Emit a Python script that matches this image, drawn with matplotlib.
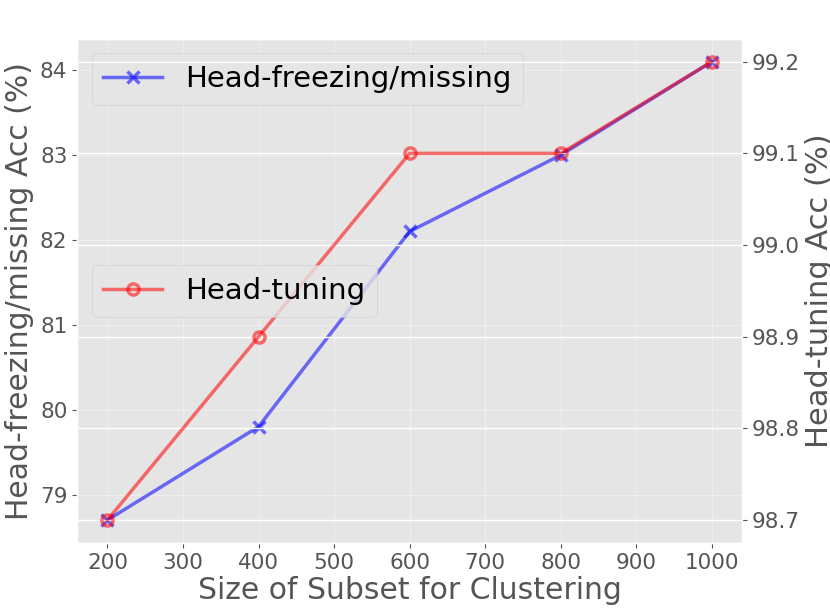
import matplotlib
matplotlib.use("Agg")
import matplotlib.pyplot as plt

plt.style.use("ggplot")

# data
subset_sizes = [200, 400, 600, 800, 1000]
freeze_acc = [78.7, 79.8, 82.1, 83.0, 84.1]
tuning_acc = [98.7, 98.9, 99.1, 99.1, 99.2]

fig = plt.figure(figsize=(8.3, 6.16), dpi=100)
ax1 = fig.add_axes([0.093, 0.1185, 0.801, 0.8185])
ax1.grid(True, color="white", alpha=0.35)

ax1.plot(subset_sizes, freeze_acc, color="blue", alpha=0.55, linewidth=2.5,
         marker="x", markersize=8, markeredgewidth=2.5,
         label="Head-freezing/missing")
ax1.set_xlabel("Size of Subset for Clustering", fontsize=21.5, color="#555555",
               labelpad=2)
ax1.set_ylabel("Head-freezing/missing Acc (%)", fontsize=21.5, color="#555555",
               labelpad=4)
ax1.tick_params(labelsize=15.5)
ax1.legend(loc="upper left", fontsize=21)

ax2 = ax1.twinx()
ax2.grid(True, color="white", linewidth=1.0)
ax2.plot(subset_sizes, tuning_acc, color="red", alpha=0.55, linewidth=2.5,
         marker="o", markersize=8, markeredgewidth=2.5, markerfacecolor="none",
         label="Head-tuning")
ax2.set_ylabel("Head-tuning Acc (%)", fontsize=22, color="#555555", labelpad=4)
ax2.tick_params(labelsize=15.5)
ax2.legend(loc="center left", fontsize=21)

fig.savefig("out.png", dpi=100)
